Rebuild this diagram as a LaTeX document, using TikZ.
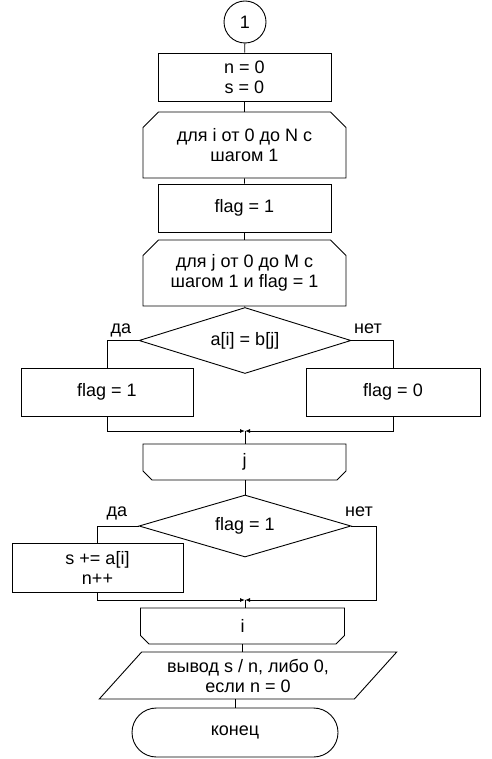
\documentclass[tikz,border=0pt]{standalone}
\usepackage{fontspec}
\setmainfont{Liberation Sans}
\usetikzlibrary{shapes.geometric, shapes.misc, arrows.meta}

\begin{document}
\begin{tikzpicture}[
          x=1pt, y=-1pt, line width=0.9pt,
          font=\fontsize{18}{20}\selectfont,
          every node/.style={align=center, inner sep=0pt},
          box/.style={draw, rectangle},
          loopstart/.style={draw, chamfered rectangle, chamfered rectangle xsep=12pt,
                            chamfered rectangle corners={north west, north east}},
          loopend/.style={draw, chamfered rectangle, chamfered rectangle xsep=7pt,
                          chamfered rectangle corners={south west, south east}},
          cond/.style={draw, diamond, aspect=3.2, minimum width=212pt},
          arr/.style={-{Latex[length=5pt, width=4pt]}}
    ]
    \useasboundingbox (0,0) rectangle (491,759);

    \node[draw, circle, minimum size=42pt] (start) at (245,22) {1};
    \node[box, minimum width=173pt, minimum height=48pt] (init) at (244.5,77) {n = 0\\s = 0};
    \node[loopstart, minimum width=203pt, minimum height=66pt] (loopi) at (244.5,145) {для i от 0 до N с\\шагом 1};
    \node[box, minimum width=173pt, minimum height=48pt] (reset) at (244.5,208) {flag = 1};
    \node[loopstart, minimum width=203pt, minimum height=66pt] (loopj) at (244.5,273) {для j от 0 до M с\\шагом 1 и flag = 1};

    % first decision
    \node[cond, minimum height=66pt] (cmp) at (245,340.5) {a[i] = b[j]};
    \node[box, minimum width=172pt, minimum height=48pt] (found) at (107,392) {flag = 1};
    \node[box, minimum width=174pt, minimum height=48pt] (notfound) at (393,392) {flag = 0};
    \node[anchor=base] (yes1) at (121,333) {да};
    \node[anchor=base] (no1) at (368,333) {нет};
    \coordinate (mergej) at (245,431);

    \node[loopend, minimum width=203pt, minimum height=36pt] (endj) at (244.5,462) {j};

    % second decision
    \node[cond, minimum height=62pt] (check) at (245,526) {flag = 1};
    \node[box, minimum width=171pt, minimum height=49pt] (add) at (97.5,567.5) {s += a[i]\\n++};
    \node[anchor=base] (yes2) at (117,516) {да};
    \node[anchor=base] (no2) at (359,516) {нет};
    \coordinate (mergei) at (245,600);
    \coordinate (skip) at (376,600);

    \node[loopend, minimum width=204pt, minimum height=36pt] (endi) at (242.5,626) {i};
    \node[draw, trapezium, trapezium left angle=46, trapezium right angle=134,
          trapezium stretches=true, minimum width=298pt, minimum height=47pt] (out) at (248,675.5)
          {вывод s / n, либо 0,\\если n = 0};
    \node[draw, rounded rectangle, minimum width=206pt, minimum height=49pt] (stop) at (235,732.5) {конец};

    \draw (start) -- (init);
    \draw (init) -- (loopi);
    \draw (loopi) -- (reset);
    \draw (reset) -- (loopj);
    \draw (loopj) -- (cmp);
    \draw (cmp.west) -| (found.north);
    \draw (cmp.east) -| (notfound.north);
    \draw[arr] (found.south) |- (mergej);
    \draw[arr] (notfound.south) |- (mergej);
    \draw (mergej) -- (mergej |- endj.north);
    \draw (endj.south -| check.north) -- (check.north);
    \draw (check.west) -| (add.north);
    \draw[arr] (add.south) |- (mergei);
    \draw[arr] (check.east) -| (skip) -- (mergei);
    \draw (mergei) -- (mergei |- endi.north);
    \draw (endi.south) -- (endi.south |- out.north);
    \draw (out.south -| stop.north) -- (stop.north);

    \end{tikzpicture}
\end{document}
